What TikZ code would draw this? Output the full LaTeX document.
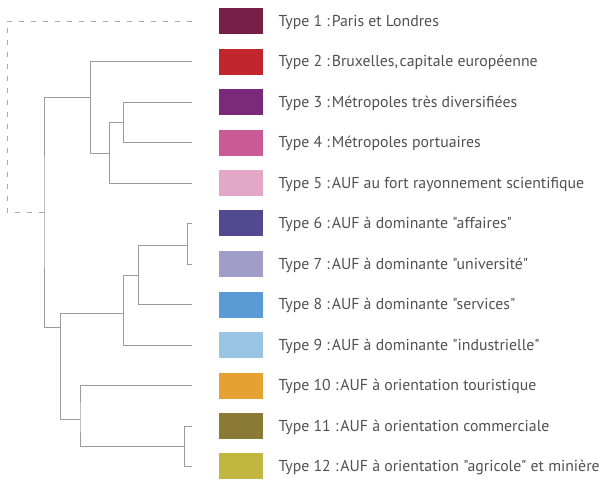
\documentclass[tikz,border=0pt]{standalone}
\usepackage{fontspec}
\setmainfont{PT Sans}[Ligatures=TeXOff]
\newcommand\qq{\char34\relax}
\begin{document}
\begin{tikzpicture}[x=1pt,y=-1pt,
  tree/.style={draw={rgb,255:red,155;green,155;blue,155},line width=1pt},
  dashtree/.style={draw={rgb,255:red,170;green,170;blue,170},line width=1pt,dash pattern=on 5pt off 7pt},
  swatch/.style={rectangle,minimum width=44pt,minimum height=26pt,inner sep=0pt},
  label/.style={anchor=base west,inner sep=0pt,text={rgb,255:red,80;green,80;blue,80},font=\fontsize{15.8}{18}\selectfont}]
\useasboundingbox (0,0) rectangle (601,480);
\definecolor{c1}{RGB}{118,30,70}
\definecolor{c2}{RGB}{192,38,44}
\definecolor{c3}{RGB}{122,42,122}
\definecolor{c4}{RGB}{201,90,149}
\definecolor{c5}{RGB}{227,168,200}
\definecolor{c6}{RGB}{82,74,144}
\definecolor{c7}{RGB}{160,158,201}
\definecolor{c8}{RGB}{90,155,213}
\definecolor{c9}{RGB}{154,196,228}
\definecolor{c10}{RGB}{229,162,50}
\definecolor{c11}{RGB}{138,122,53}
\definecolor{c12}{RGB}{192,182,64}
\foreach \i/\y/\t in {
 1/21/{Type 1 :\hspace{0.12em}Paris et Londres},
 2/61.5/{Type 2 :\hspace{0.12em}Bruxelles,\hspace{0.1em}capitale européenne},
 3/102/{Type 3 :\hspace{0.12em}Métropoles très diversifiées},
 4/142.5/{Type 4 :\hspace{0.12em}Métropoles portuaires},
 5/183/{Type 5 :\hspace{0.12em}AUF au fort rayonnement scientifique},
 6/223/{Type 6 :\hspace{0.12em}AUF à dominante \qq affaires\qq},
 7/264/{Type 7 :\hspace{0.12em}AUF à dominante \qq université\qq},
 8/304.5/{Type 8 :\hspace{0.12em}AUF à dominante \qq services\qq},
 9/345/{Type 9 :\hspace{0.12em}AUF à dominante \qq industrielle\qq},
 10/385.5/{Type 10 :\hspace{0.12em}AUF à orientation touristique},
 11/426/{Type 11 :\hspace{0.12em}AUF à orientation commerciale},
 12/466/{Type 12 :\hspace{0.12em}AUF à orientation \qq agricole\qq{} et minière}}{
  \node[swatch,fill=c\i] (s\i) at (241,\y) {};
  \node[label] (t\i) at (278.5,\y+5) {\t};
  \coordinate (l\i) at (192,\y);
}
% internal junctions
\coordinate (n34) at (123.7,122.2);
\coordinate (n345) at (109.7,153.3);
\coordinate (n2345) at (90.7,97);
\coordinate (n67) at (187.7,245);
\coordinate (n678) at (138.3,275.7);
\coordinate (n6789) at (123.7,313.3);
\coordinate (n1112) at (184.3,446.7);
\coordinate (n101112) at (80,419);
\coordinate (nlow) at (60.7,327);
\coordinate (root) at (44,212);
\coordinate (d) at (7,212);
\draw[tree] (l3) -| (n34) |- (l4);
\draw[tree] (n34) -| (n345) |- (l5);
\draw[tree] (l2) -| (n2345) |- (n345);
\draw[tree] (l6) -| (n67) |- (l7);
\draw[tree] (n67) -| (n678) |- (l8);
\draw[tree] (n678) -| (n6789) |- (l9);
\draw[tree] (l11) -| (n1112) |- (l12);
\draw[tree] (l10) -| (n101112) |- (n1112);
\draw[tree] (n6789) -| (nlow) |- (n101112);
\draw[tree] (n2345) -| (root) |- (nlow);
\draw[dashtree] (l1) -| (d) -- (root);
\end{tikzpicture}
\end{document}
